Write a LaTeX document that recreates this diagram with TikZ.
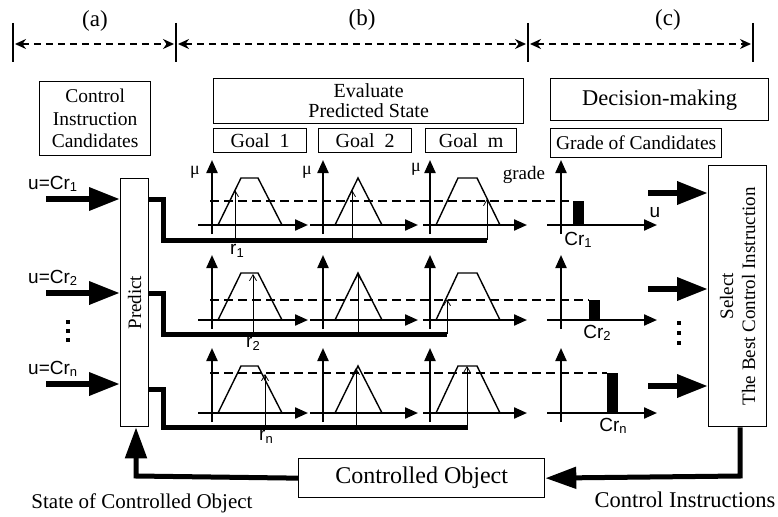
\documentclass[tikz,border=0pt]{standalone}
\usepackage{fontspec}
\setmainfont{Liberation Serif}
\newfontfamily\sansfam{Liberation Sans}
\usetikzlibrary{arrows.meta}

% font size helper and small lowered index used in the sans labels
\newcommand\fsz[2]{\fontsize{#1}{#2}\selectfont}
\newcommand\lowidx[1]{\raisebox{-0.25ex}{\fsz{13}{13}#1}}

\tikzset{
  box/.style={draw, line width=1.3pt, inner sep=0pt, anchor=north west, align=center},
  thickline/.style={line width=5pt},
  axis/.style={line width=2.2pt, -{Triangle[length=13pt,width=11pt]}},
  shapeline/.style={line width=1.4pt, line join=miter},
  rarrow/.style={line width=0.8pt, -{Straight Barb[length=6pt,width=7pt]}},
  dashline/.style={line width=2.2pt, dash pattern=on 9pt off 5pt},
  bigarrow/.style={line width=6.5pt, -{Triangle[length=31pt,width=22pt]}},
  backarrow/.style={line width=5pt, -{Triangle[length=31pt,width=21pt]}},
  spanline/.style={line width=1.5pt, dash pattern=on 7pt off 5pt,
    {Stealth[length=11pt,width=10pt]}-{Stealth[length=11pt,width=10pt]}},
  bar/.style={line width=1.5pt},
  sanslbl/.style={font=\sansfam\fsz{19}{19}, inner sep=0pt},
}

\begin{document}
\begin{tikzpicture}[x=1pt, y=-1pt]
\useasboundingbox (0,0) rectangle (778,516);

% ---- phase markers along the top ----
\foreach \n/\x in {b0/13, b1/176, b2/528, b3/753}
  \draw[bar] (\x,23) coordinate (\n t) -- (\x,62) coordinate (\n);
\coordinate (s0) at (13,44);
\coordinate (s1) at (176,44);
\coordinate (s2) at (528,44);
\coordinate (s3) at (753,44);
\draw[spanline] ([xshift=2pt]s0) -- ([xshift=-2pt]s1);
\draw[spanline] ([xshift=2pt]s1) -- ([xshift=-2pt]s2);
\draw[spanline] ([xshift=2pt]s2) -- ([xshift=-2pt]s3);
\node[font=\fsz{23}{23}] (la) at (95,21) {(a)};
\node[font=\fsz{23}{23}] (lb) at (362,20) {(b)};
\node[font=\fsz{23}{23}] (lc) at (668,20) {(c)};

% ---- title boxes ----
\node[box, minimum width=111pt, minimum height=74pt, font=\fsz{19.5}{22.5}] (cand) at (39,81)
  {Control\\Instruction\\Candidates};
\node[box, minimum width=310pt, minimum height=45pt, font=\fsz{20}{20}] (eval) at (213,78)
  {Evaluate\\Predicted State};
\node[box, minimum width=93pt, minimum height=24pt, font=\fsz{20}{20}] (goal1) at (213,128) {Goal~~1};
\node[box, minimum width=93pt, minimum height=24pt, font=\fsz{20}{20}] (goal2) at (318,128) {Goal~~2};
\node[box, minimum width=91pt, minimum height=24pt, font=\fsz{20}{20}] (goalm) at (425,128) {Goal~~m};
\node[box, minimum width=218pt, minimum height=42pt, font=\fsz{22.5}{22.5}] (dec) at (550,78) {Decision-making};
\node[box, minimum width=171pt, minimum height=29pt, font=\fsz{19.5}{19.5}] (grade) at (550,128) {Grade of Candidates};

% ---- Predict / Select / Controlled Object ----
\node[box, minimum width=28pt, minimum height=248pt] (pred) at (120,178) {};
\node[rotate=90, font=\fsz{19}{19}] (predtxt) at (pred.center) {Predict};
\node[box, minimum width=58pt, minimum height=261pt] (sel) at (708,165) {};
\node[rotate=90, align=center, font=\fsz{19}{22}] (seltxt) at (sel.center)
  {Select\\The Best Control Instruction};
\node[box, minimum width=246pt, minimum height=39pt, font=\fsz{24}{24}] (ctrl) at (298,458) {Controlled Object};

% ---- candidate inputs ----
\foreach \i/\y/\t in {1/199/1, 2/293/2, 3/384/n} {
  \coordinate (in\i) at (46,\y);
  \draw[bigarrow] (in\i) -- (in\i -| pred.west);
  \node[sanslbl, anchor=base west] (u\i) at (28,\y-10) {u=Cr\lowidx{\t}};
}
\foreach \y in {322,331,340}
  \fill (66,\y-2) rectangle (70,\y+2);

% ---- predicted states routed to the goal graphs ----
\foreach \i/\ys/\yl/\xe in {1/199/240/487, 2/293/334/447, 3/389/427/468} {
  \coordinate (k\i) at (163,\ys);
  \coordinate (e\i) at (\xe,\yl);
  \draw[thickline, line join=miter] (k\i -| pred.east) -- (k\i) |- (e\i);
}

% ---- membership graphs, one row per candidate ----
\foreach \i/\yo/\dy/\xb in {1/225/24/573, 2/320/20/589, 3/413/40/607} {
  % axes
  \foreach \ax/\xa/\xz in {212/198/308, 323/310/418, 430/423/527, 561/547/657} {
    \draw[axis] (\ax,\yo+9) -- (\ax,\yo-65);
    \draw[axis] (\xa,\yo) -- (\xz,\yo);
  }
  % membership functions
  \draw[shapeline] (218,\yo) -- (241,\yo-47) -- (258,\yo-47) -- (282,\yo);
  \draw[shapeline] (335,\yo) -- (358,\yo-47) -- (382,\yo);
  \draw[shapeline] (436,\yo) -- (458,\yo-47) -- (477,\yo-47) -- (500,\yo);
  % grade level and grade bar
  \coordinate (g\i) at (\xb,\yo-\dy);
  \draw[dashline] (210,\yo-\dy) -- (g\i);
  \fill (g\i) rectangle (\xb+11,\yo);
}

% ---- predicted values r ----
\foreach \x/\t in {235/190, 352/190, 487/199}
  \draw[rarrow] (\x,240) -- (\x,\t);
\foreach \x/\t in {253/274, 358/274, 447/299}
  \draw[rarrow] (\x,334) -- (\x,\t);
\foreach \x/\t in {265/374, 356/368, 467/366}
  \draw[rarrow] (\x,427) -- (\x,\t);

\node[sanslbl] (r1) at (237,251) {r\lowidx{1}};
\node[sanslbl] (r2) at (253,344) {r\lowidx{2}};
\node[sanslbl] (r3) at (266,437) {r\lowidx{n}};

\node[font=\fsz{18}{18}, inner sep=0pt] (mu1) at (195,172) {μ};
\node[font=\fsz{18}{18}, inner sep=0pt] (mu2) at (307,172) {μ};
\node[font=\fsz{18}{18}, inner sep=0pt] (mu3) at (416,169) {μ};
\node[font=\fsz{19}{19}, inner sep=0pt] (gl) at (524,175) {grade};
\node[sanslbl] (ul) at (655,213) {u};
\node[sanslbl] (c1) at (578,240) {Cr\lowidx{1}};
\node[sanslbl] (c2) at (597,333) {Cr\lowidx{2}};
\node[sanslbl] (c3) at (613,426) {Cr\lowidx{n}};

% ---- grades passed on to the selection ----
\foreach \i/\y in {1/193, 2/289, 3/386} {
  \coordinate (o\i) at (648,\y);
  \draw[bigarrow] (o\i) -- (o\i -| sel.west);
}
\foreach \y in {323,333,343}
  \fill (677,\y-2) rectangle (681,\y+2);

% ---- feedback loop ----
\coordinate (fb) at (740,476);
\draw[backarrow, line join=miter] (sel.south -| fb) -- (fb) -- (ctrl.east);
\coordinate (fs) at (136,476);
\draw[backarrow, line join=miter] (ctrl.west) -- (fs) -- (fs |- pred.south);

\node[font=\fsz{21}{21}] (stl) at (142,503) {State of Controlled Object};
\node[font=\fsz{22.5}{22.5}] (cil) at (685,500) {Control Instructions};
\end{tikzpicture}
\end{document}
